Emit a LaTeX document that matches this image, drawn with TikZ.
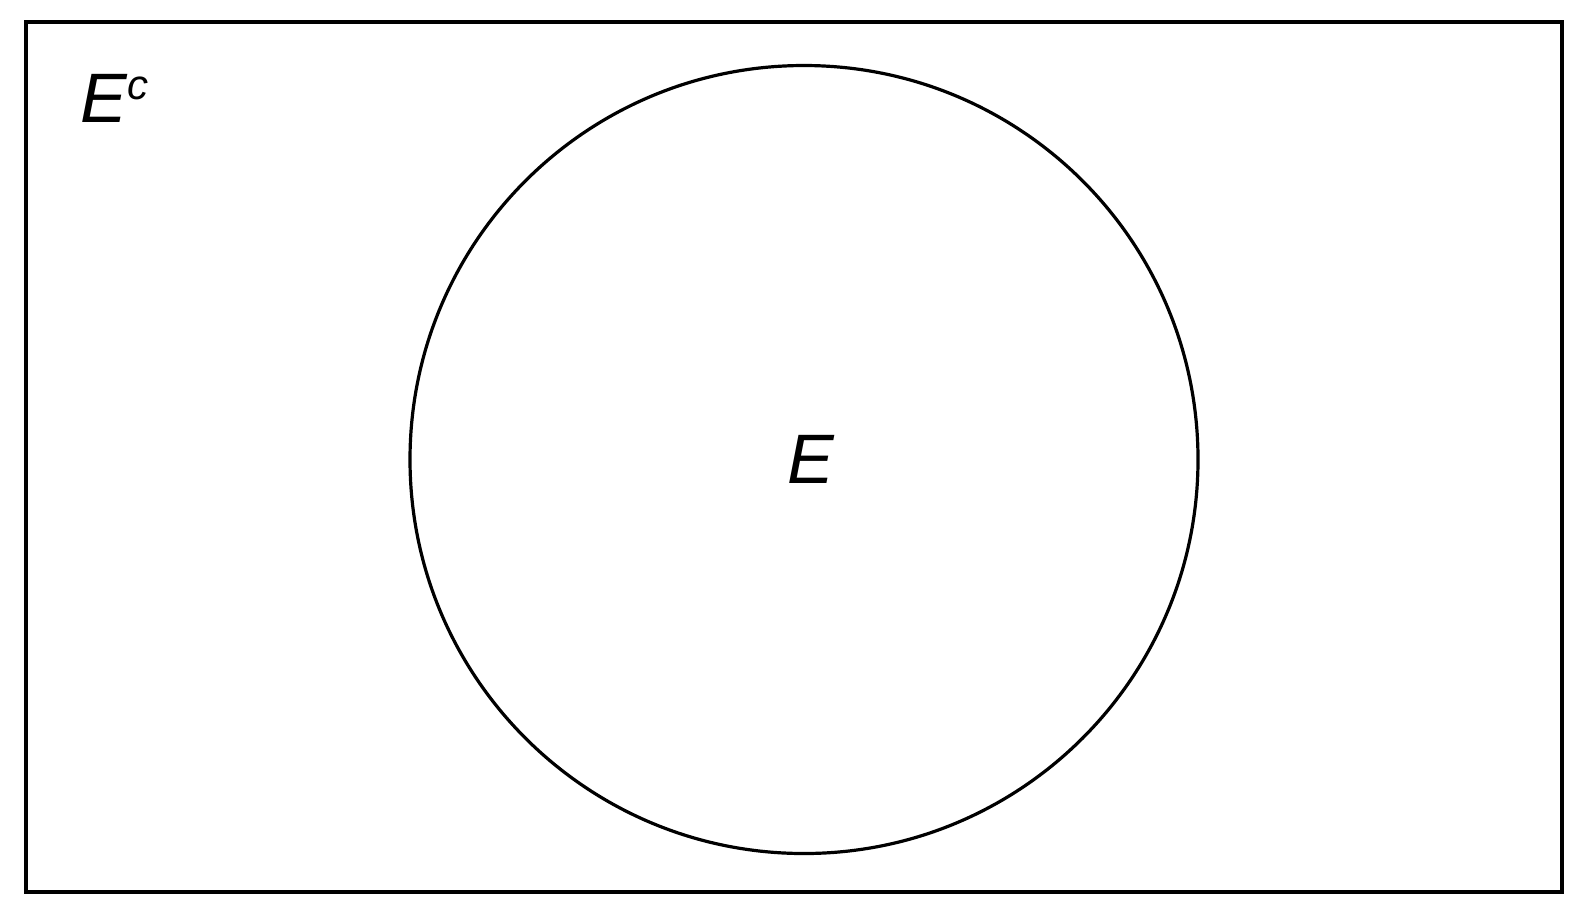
\documentclass[tikz,border=0pt]{standalone}
\usepackage{fontspec}
\setmainfont{Liberation Sans}
\usetikzlibrary{positioning}

\begin{document}
\begin{tikzpicture}[x=0.5pt,y=-0.5pt,
        frame/.style={draw,line width=2pt},
        event/.style={draw,line width=1.6pt},
        setlabel/.style={inner sep=0pt,anchor=base,font=\fontsize{35}{40}\selectfont\itshape}]
        \useasboundingbox (0,0) rectangle (1582,912);
        \draw[frame] (26,22) rectangle (1561.5,891.5);
        \draw[event] (804,459.5) circle[radius=394];
        \node[setlabel] (setE) at (811,483) {E};
        \node[setlabel,anchor=base west] (setEc) at (80,122) {E\raisebox{11.5pt}{\fontsize{21}{24}\selectfont c}};
    \end{tikzpicture}
\end{document}
